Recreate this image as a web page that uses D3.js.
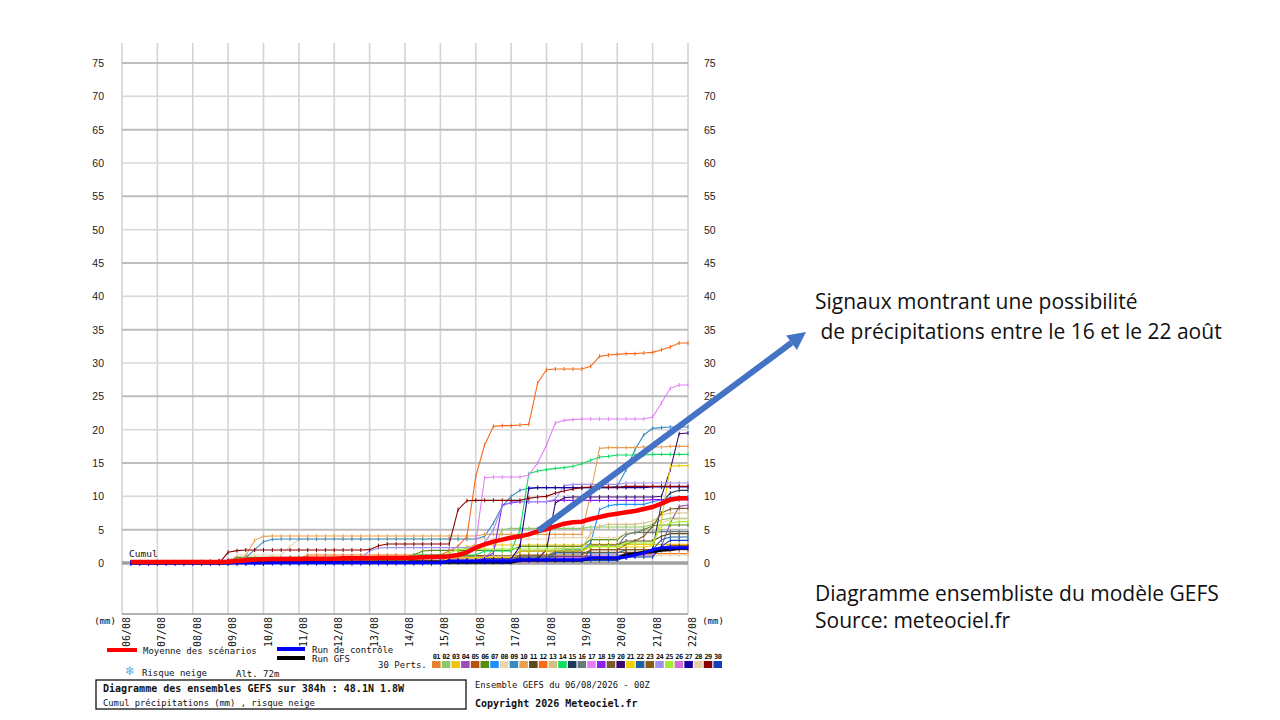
<!DOCTYPE html>
<html><head><meta charset="utf-8">
<script src="https://cdn.jsdelivr.net/npm/d3@7"></script>
<style>body{margin:0;background:#fff}svg{display:block}</style>
</head><body><svg id="c" width="1280" height="720"></svg>
<script>
// ---------- data ----------
const dayLabels = ["06/08","07/08","08/08","09/08","10/08","11/08","12/08","13/08","14/08","15/08","16/08","17/08","18/08","19/08","20/08","21/08","22/08"];
const yTicks = [0,5,10,15,20,25,30,35,40,45,50,55,60,65,70,75];
const memberIds = ["01","02","03","04","05","06","07","08","09","10","11","12","13","14","15","16","17","18","19","20","21","22","23","24","25","26","27","28","29","30"];
const memberColors = ["#e8812f","#8dc86a","#f2c40c","#9b4fb4","#b5520f","#5a8a10","#1e90ff","#ead6b0","#3a8ac0","#e8a050","#5a4a1a","#f86a1a","#d4c080","#10dc60","#1e3a5a","#6a7880","#e080f8","#8a20f0","#7a5a30","#3a0a70","#f0d000","#1e60a0","#8b5a1a","#a090f0","#a0f030","#d070d0","#1a00a0","#e8d0a8","#880000","#1040c0"];
// cumulative precipitation (mm), one value every 6 h from +6h to +384h
const m01 = [0.2,0.2,0.2,0.2,0.2,0.2,0.2,0.2, 0.2,0.2,0.2,0.2,0.2,0.2,0.2,0.2, 0.2,0.2,0.2,0.2,0.2,0.2,0.2,0.2, 0.2,0.2,0.2,0.2,0.2,0.2,0.2,0.2, 0.2,0.2,0.2,0.2,0.6,0.6,0.6,0.6, 0.9,0.9,0.9,0.9,0.9,0.9,0.9,0.9, 0.9,0.9,0.9,0.9,0.9,0.9,0.9,0.9, 1.4,1.4,1.4,1.4,1.4,1.4,1.4,1.4];
const m02 = [0,0,0,0,0.1,0.1,0.1,0.1, 0.2,0.2,0.2,0.2,0.2,0.2,0.2,0.2, 0.3,0.3,0.3,0.3,0.3,0.3,0.3,0.3, 0.3,0.3,0.3,0.3,0.3,0.3,0.3,0.3, 0.3,0.3,0.3,0.3,0.8,0.8,0.8,0.8, 0.8,2.0,5.0,5.2,5.2,5.2,5.2,5.2, 5.2,5.2,5.2,5.2,5.4,5.4,5.4,5.4, 5.4,5.4,5.4,5.8,6.5,6.7,6.7,6.7];
const m03 = [0,0,0,0,0,0,0.1,0.1, 0.1,0.1,0.2,0.2,0.2,0.2,0.2,0.2, 0.2,0.2,0.2,0.2,0.2,0.2,0.2,0.2, 0.2,0.2,0.2,0.2,0.2,0.2,0.2,0.2, 0.2,0.2,0.2,0.2,0.6,1.5,2.4,2.7, 2.7,2.7,2.7,2.7,2.7,2.7,2.7,2.7, 2.7,2.7,2.7,2.7,2.8,2.8,2.8,2.8, 2.8,2.8,2.8,2.8,2.8,2.8,2.8,2.8];
const m04 = [0,0,0,0,0,0,0,0, 0,0,0,0.5,0.8,0.8,0.8,0.8, 0.8,0.8,0.8,0.8,0.8,0.8,0.8,0.8, 0.8,0.8,0.8,0.8,0.8,0.8,0.8,0.8, 0.8,0.8,0.8,0.8,0.8,0.8,0.8,0.8, 0.8,0.8,0.8,0.8,1.0,1.0,1.0,1.0, 1.0,1.0,1.0,1.0,1.2,1.2,1.2,1.2, 1.2,1.2,1.2,1.2,2.5,6.0,8.5,8.7];
const m05 = [0,0,0,0,0,0.1,0.1,0.1, 0.1,0.2,0.3,0.3,0.3,0.3,0.3,0.3, 0.3,0.3,0.3,0.3,0.3,0.3,0.3,0.3, 0.3,0.3,0.3,0.3,0.3,0.3,0.3,0.3, 0.3,0.3,0.3,0.3,1.1,1.1,1.1,1.1, 1.1,1.1,1.1,1.1,1.1,1.1,1.1,1.1, 1.6,1.6,1.6,1.6,1.6,1.6,1.6,1.6, 1.6,1.6,1.6,1.6,1.9,2.0,2.0,2.0];
const m06 = [0,0,0,0,0,0,0.1,0.1, 0.1,0.1,0.1,0.1,0.85,0.85,0.85,0.85, 0.85,0.85,0.85,0.85,0.85,0.85,0.85,0.85, 0.85,0.85,0.85,0.85,0.85,0.85,0.85,0.85, 1.2,1.8,1.9,1.9,1.9,1.9,1.9,1.9, 1.9,1.9,1.9,1.9,2.5,2.5,2.5,2.5, 2.5,2.5,2.5,2.5,3.5,3.5,3.5,3.5, 4.5,4.5,5.0,5.6,5.7,5.7,5.7,5.7];
const m07 = [0,0,0,0,0,0,0,0, 0,0,0,0.05,0.3,0.3,0.3,0.3, 0.3,0.3,0.3,0.3,0.3,0.3,0.3,0.3, 0.3,0.3,0.3,0.3,0.3,0.3,0.3,0.3, 0.3,0.3,0.3,0.3,0.3,0.3,0.3,0.3, 1.0,1.0,1.0,1.0,1.0,1.0,1.0,1.0, 1.5,2.0,2.0,2.0,3.0,8.0,8.6,8.8, 8.8,8.8,8.8,9.2,9.5,9.8,9.9,9.9];
const m08 = [0,0,0,0,0,0.1,0.1,0.1, 0.1,0.1,0.1,0.1,1.2,1.2,1.2,1.2, 1.2,1.2,2.5,3.55,3.6,3.6,3.6,3.6, 3.6,3.6,3.6,3.6,3.6,3.6,3.6,3.6, 3.6,3.6,3.6,3.6,3.6,3.6,3.6,3.6, 3.6,3.6,3.6,3.6,3.6,3.6,3.6,3.6, 3.8,3.8,3.8,3.8,3.8,3.8,3.8,3.8, 4.5,4.5,4.5,4.5,6.0,6.5,6.6,6.6];
const m09 = [0,0,0,0,0,0.1,0.1,0.1, 0.1,0.1,0.1,0.1,0.3,0.8,2.0,3.2, 3.55,3.6,3.6,3.6,3.6,3.6,3.6,3.6, 3.6,3.6,3.6,3.6,3.6,3.6,3.6,3.6, 3.6,3.6,3.6,3.6,3.6,3.6,3.6,3.6, 4.0,6.0,8.5,10.0,10.9,11.2,11.3,11.3, 11.3,11.3,11.3,11.3,11.3,11.3,11.3,11.5, 14.0,17.0,19.2,20.2,20.3,20.4,20.4,20.4];
const m10 = [0,0,0,0,0.1,0.1,0.2,0.2, 0.2,0.2,0.2,0.2,0.2,1.1,3.4,4.0, 4.05,4.05,4.05,4.05,4.05,4.05,4.05,4.05, 4.05,4.05,4.05,4.05,4.05,4.05,4.05,4.05, 4.05,4.05,4.05,4.05,4.05,4.05,4.05,4.05, 4.3,4.3,4.3,4.3,4.3,4.3,4.3,4.3, 4.3,4.3,4.3,4.3,10.5,17.2,17.3,17.3, 17.3,17.3,17.4,17.4,17.4,17.5,17.5,17.5];
const m11 = [0,0,0,0,0,0,0.1,0.1, 0.1,0.2,0.2,0.2,0.2,0.2,0.2,0.2, 0.2,0.2,0.2,0.2,0.2,0.2,0.2,0.2, 0.2,0.2,0.2,0.2,0.2,0.2,0.2,0.2, 0.2,0.2,0.2,0.2,0.9,0.9,0.9,0.9, 0.9,0.9,0.9,0.9,1.8,1.8,1.8,1.8, 1.8,1.8,1.8,1.8,2.7,2.7,2.7,2.7, 3.3,3.3,3.3,3.3,4.0,4.4,4.4,4.4];
const m12 = [0,0,0,0,0,0.1,0.1,0.1, 0.1,0.1,0.1,0.1,0.6,0.6,0.6,0.6, 0.6,0.6,0.6,0.6,1.2,1.2,1.2,1.2, 1.2,1.2,1.2,1.2,1.2,1.2,1.2,1.2, 1.2,1.2,1.2,1.2,1.8,2.5,4.0,13.0, 17.7,20.5,20.6,20.6,20.7,20.8,27.0,29.0, 29.1,29.1,29.1,29.1,29.5,31.0,31.2,31.3, 31.4,31.4,31.5,31.6,32.0,32.4,33.0,33.0];
const m13 = [0,0,0,0,0.1,0.1,0.1,0.1, 0.2,0.2,0.3,0.3,0.3,0.3,0.3,0.3, 0.3,0.3,0.3,0.3,0.3,0.3,0.3,0.3, 0.3,0.3,0.3,0.3,0.3,0.3,0.3,0.3, 0.3,0.3,0.3,0.3,0.3,0.3,0.3,0.3, 1.0,1.0,1.0,1.0,1.0,1.0,1.0,1.0, 2.2,2.2,2.2,2.2,4.5,5.5,5.8,5.8, 5.8,5.8,6.0,6.3,7.2,7.5,7.5,7.5];
const m14 = [0,0,0,0,0,0,0.1,0.1, 0.1,0.1,0.1,0.1,0.1,0.1,0.1,0.1, 0.5,0.5,0.5,0.5,0.5,0.5,0.5,0.5, 0.5,0.5,0.5,0.5,0.5,0.5,0.5,0.5, 1.2,1.2,1.2,1.2,1.2,1.2,1.2,1.2, 1.8,1.8,1.8,1.8,5.0,13.4,13.8,14.0, 14.2,14.3,14.5,14.9,15.4,15.9,16.0,16.2, 16.2,16.2,16.2,16.3,16.3,16.3,16.3,16.3];
const m15 = [0,0,0,0,0.1,0.1,0.1,0.1, 0.1,0.1,0.2,0.3,0.3,0.3,0.3,0.3, 0.3,0.3,0.3,0.3,0.3,0.3,0.3,0.3, 0.3,0.3,0.3,0.3,0.3,0.3,0.3,0.3, 0.3,0.3,0.3,0.3,0.3,0.3,0.3,0.3, 0.3,0.3,0.3,0.3,0.9,0.9,0.9,0.9, 0.9,0.9,0.9,0.9,0.9,0.9,0.9,0.9, 1.5,1.5,1.5,2.0,9.0,10.5,10.9,10.9];
const m16 = [0,0,0,0,0,0.1,0.1,0.1, 0.1,0.1,0.2,0.2,0.2,0.2,0.2,0.2, 0.2,0.2,0.2,0.2,0.2,0.2,0.2,0.2, 0.2,0.2,0.2,0.2,0.2,0.2,0.2,0.2, 0.2,0.2,0.2,0.2,0.2,0.2,0.2,0.2, 0.8,0.8,0.8,0.8,0.8,0.8,0.8,0.8, 1.8,1.8,1.8,1.8,2.5,2.5,2.5,2.5, 4.2,4.6,4.6,4.6,4.7,4.7,4.7,4.7];
const m17 = [0,0,0,0,0.1,0.1,0.1,0.1, 0.2,0.2,0.4,0.4,0.4,0.4,0.4,0.4, 0.4,0.4,0.4,0.4,0.4,0.4,0.4,0.4, 0.4,0.4,0.4,0.4,0.4,0.4,0.4,0.4, 0.4,0.4,0.4,0.4,0.6,0.9,1.5,3.0, 12.8,12.9,12.9,12.9,12.9,13.2,15.0,17.7, 21.0,21.4,21.5,21.6,21.6,21.6,21.6,21.6, 21.6,21.6,21.6,21.9,24.0,26.2,26.7,26.7];
const m18 = [0,0,0,0,0,0.1,0.1,0.1, 0.1,0.2,0.3,0.3,0.3,0.3,0.3,0.3, 0.3,0.3,0.3,0.3,0.3,0.3,0.3,0.3, 0.3,0.3,0.3,0.3,0.3,0.3,0.3,0.3, 0.3,0.3,0.3,0.3,0.3,0.3,0.3,0.3, 0.8,1.5,8.7,9.0,9.2,9.2,9.2,9.2, 9.4,9.4,9.4,9.4,9.4,9.4,9.4,9.4, 9.4,9.4,9.4,9.5,9.5,9.5,9.5,9.5];
const m19 = [0,0,0,0,0,0,0.1,0.1, 0.1,0.1,0.2,0.2,0.2,0.2,0.2,0.2, 0.2,0.2,0.2,0.2,0.2,0.2,0.2,0.2, 0.2,0.2,0.2,0.2,0.4,0.4,0.4,0.4, 0.4,0.4,0.4,0.4,0.4,0.4,0.4,0.4, 0.4,0.4,0.4,0.4,0.4,0.4,0.4,0.4, 0.4,0.4,0.4,0.4,2.0,2.0,2.0,2.0, 2.8,3.3,4.0,5.5,7.5,8.1,8.2,8.2];
const m20 = [0,0,0,0,0,0.1,0.1,0.1, 0.1,0.1,0.3,0.3,0.3,0.3,0.3,0.3, 0.3,0.3,0.3,0.3,0.3,0.3,0.3,0.3, 0.3,0.3,0.3,0.3,0.3,0.3,0.3,0.3, 0.3,0.3,0.3,0.3,0.3,0.3,0.3,0.3, 0.6,0.6,0.6,0.6,0.6,0.6,0.6,2.0, 9.0,9.8,9.9,9.9,9.9,9.9,9.9,9.9, 9.9,9.9,9.9,9.9,10.0,14.0,19.4,19.5];
const m21 = [0,0,0,0,0,0,0.1,0.1, 0.1,0.1,0.2,0.2,0.2,0.2,0.2,0.2, 0.2,0.2,0.2,0.2,0.2,0.2,0.2,0.2, 0.2,0.2,0.2,0.2,0.2,0.2,0.2,0.2, 0.2,0.2,0.2,0.2,0.8,0.8,0.8,0.8, 0.8,0.8,0.8,0.8,1.8,1.8,1.8,1.8, 1.8,1.8,1.8,1.8,2.4,2.4,2.4,2.4, 2.4,2.4,2.4,2.6,6.5,14.5,14.6,14.6];
const m22 = [0,0,0,0,0,0,0,0, 0,0,0,0,0.1,0.1,0.1,0.1, 0.1,0.1,0.1,0.1,0.1,0.1,0.1,0.1, 0.1,0.1,0.1,0.1,0.1,0.1,0.1,0.1, 0.1,0.1,0.1,0.1,0.1,0.1,0.1,0.1, 0.5,0.5,0.5,0.5,0.5,0.5,0.5,0.5, 1.5,1.5,1.5,1.5,1.5,1.5,1.5,1.5, 2.0,2.0,2.0,2.0,3.5,3.9,3.9,3.9];
const m23 = [0,0,0,0,0,0,0.1,0.1, 0.1,0.2,0.3,0.3,0.3,0.3,0.3,0.3, 0.3,0.3,0.3,0.3,0.3,0.3,0.3,0.3, 0.3,0.3,0.3,0.3,0.3,0.3,0.3,0.3, 0.3,0.3,0.3,0.3,0.3,0.3,0.3,0.3, 0.3,0.3,0.3,0.3,1.2,1.2,1.2,1.2, 1.2,1.2,1.2,1.2,2.0,2.0,2.0,2.0, 2.0,2.0,2.0,2.0,2.4,2.6,2.6,2.6];
const m24 = [0,0,0,0,0,0,0,0, 0,0,0,0.1,0.1,0.1,0.1,0.1, 0.1,0.1,0.1,0.1,0.1,0.1,0.1,0.1, 0.1,0.1,0.8,1.8,2.25,2.3,2.3,2.3, 2.3,2.3,2.3,2.3,2.3,2.3,2.3,2.3, 3.0,5.0,8.5,9.2,9.2,9.2,9.2,9.2, 9.6,11.6,11.8,11.8,11.8,11.8,11.8,11.8, 12.0,12.0,12.0,12.0,12.0,12.0,12.0,12.0];
const m25 = [0,0,0,0,0,0.1,0.1,0.1, 0.1,0.1,0.2,0.2,0.3,0.3,0.3,0.3, 0.3,0.3,0.3,0.3,0.3,0.3,0.3,0.3, 0.3,0.3,0.3,0.3,0.3,0.3,0.3,0.3, 0.8,0.8,0.8,0.8,1.5,2.0,2.1,2.1, 2.1,2.1,2.1,2.1,2.1,2.1,2.1,2.1, 2.1,2.1,2.1,2.1,2.5,2.5,2.5,2.5, 3.0,3.0,3.0,3.0,5.5,6.0,6.2,6.2];
const m26 = [0,0,0,0,0,0,0.1,0.1, 0.1,0.1,0.2,0.2,0.2,0.2,0.2,0.2, 0.2,0.2,0.2,0.2,0.2,0.2,0.2,0.2, 0.2,0.2,0.2,0.2,0.2,0.2,0.2,0.2, 0.2,0.2,0.2,0.2,0.2,0.2,0.2,0.2, 0.2,0.2,0.2,0.2,0.2,0.2,0.2,0.2, 0.8,0.8,0.8,0.8,0.8,0.8,0.8,0.8, 1.2,1.2,1.2,1.2,2.4,2.4,2.4,2.4];
const m27 = [0,0,0,0,0,0.1,0.1,0.1, 0.1,0.1,0.2,0.2,0.2,0.2,0.2,0.2, 0.2,0.2,0.2,0.2,0.2,0.2,0.2,0.2, 0.2,0.2,0.2,0.2,0.2,0.2,0.2,0.2, 0.2,0.2,0.2,0.2,0.2,0.2,0.2,0.2, 0.6,0.6,0.6,0.6,2.5,11.2,11.3,11.3, 11.3,11.3,11.3,11.3,11.3,11.3,11.3,11.3, 11.3,11.3,11.3,11.4,11.4,11.4,11.4,11.4];
const m28 = [0,0,0,0,0,0,0,0, 0,0,0.1,0.1,0.1,0.1,0.1,0.1, 0.1,0.1,0.1,0.1,0.1,0.1,0.1,0.1, 0.1,0.1,0.1,0.1,0.1,0.1,0.1,0.1, 0.1,0.1,0.1,0.1,0.1,0.1,0.1,0.1, 0.4,0.4,0.4,0.4,0.4,0.4,0.4,0.4, 0.4,0.4,0.4,0.4,0.9,0.9,0.9,0.9, 0.9,0.9,1.0,1.0,1.2,1.2,1.2,1.2];
const m29 = [0,0,0,0,0,0,0,0, 0,0,0,1.6,1.85,1.95,1.95,1.95, 1.95,1.95,1.95,1.95,1.95,1.95,1.95,1.95, 1.95,1.95,1.95,2.0,2.6,2.85,2.85,2.85, 2.85,2.85,2.85,2.85,2.85,8.0,9.35,9.4, 9.4,9.4,9.4,9.4,9.4,9.7,9.9,10.0, 10.5,10.8,11.1,11.3,11.4,11.4,11.4,11.4, 11.5,11.5,11.5,11.5,11.5,11.5,11.5,11.5];
const m30 = [0,0,0,0,0,0,0,0, 0,0,0,0,0,0,0,0, 0,0,0,0,0.05,0.05,0.05,0.05, 0.05,0.05,0.05,0.05,0.05,0.05,0.05,0.05, 0.05,0.05,0.05,0.05,0.05,0.05,0.05,0.05, 0.05,0.05,0.05,0.05,0.4,0.4,0.4,0.4, 0.4,0.4,0.4,0.4,0.4,0.4,0.4,0.4, 0.9,0.9,0.9,0.9,2.5,3.4,3.4,3.4];
const meanSeries = [0.15,0.15,0.15,0.15,0.15,0.15,0.15,0.15, 0.15,0.15,0.15,0.2,0.3,0.4,0.5,0.55, 0.6,0.6,0.6,0.6,0.65,0.65,0.65,0.65, 0.7,0.7,0.7,0.7,0.75,0.75,0.75,0.75, 0.8,0.85,0.9,0.95,1.0,1.2,1.6,2.3, 2.8,3.2,3.5,3.8,4.0,4.3,4.75,5.1, 5.5,5.9,6.1,6.2,6.6,6.9,7.2,7.4, 7.6,7.8,8.1,8.4,8.9,9.5,9.7,9.7];
const controlSeries = [0,0,0,0,0,0,0,0, 0,0,0,0,0,0,0,0, 0.05,0.05,0.05,0.05,0.05,0.05,0.05,0.05, 0.05,0.05,0.05,0.05,0.05,0.05,0.05,0.05, 0.05,0.05,0.05,0.05,0.3,0.3,0.3,0.3, 0.3,0.3,0.3,0.3,0.5,0.5,0.5,0.5, 0.5,0.5,0.5,0.5,0.8,0.8,0.8,0.8, 0.9,1.2,1.5,2.0,2.3,2.3,2.3,2.3];
const gfsSeries = [0,0,0,0,0,0,0,0, 0,0,0,0,0.1,0.1,0.1,0.1, 0.1,0.1,0.1,0.1,0.1,0.1,0.1,0.1, 0.1,0.1,0.1,0.1,0.1,0.1,0.1,0.1, 0.1,0.1,0.1,0.1,0.1,0.1,0.1,0.1, 0.1,0.1,0.1,0.1,0.4,0.4,0.4,0.4, 0.4,0.4,0.4,0.4,0.7,0.7,0.7,0.7, 1.2,1.4,1.6,1.7,1.9,2.0,2.2,2.2];
const members = [m01,m02,m03,m04,m05,m06,m07,m08,m09,m10,m11,m12,m13,m14,m15,m16,m17,m18,m19,m20,m21,m22,m23,m24,m25,m26,m27,m28,m29,m30];

// ---------- drawing ----------
const svg = d3.select("#c");
const x = d3.scaleLinear().domain([0, 64]).range([122, 688]);
const y = d3.scaleLinear().domain([0, 75]).range([563, 63]);
const MONO = "'DejaVu Sans Mono', 'Liberation Mono', monospace";
const SANS = "'Liberation Sans', Arial, sans-serif";
const dayTicks = dayLabels.map((d, i) => i * 4);

// grid
const grid = svg.append("g");
grid.selectAll("line.v").data(dayTicks).join("line")
  .attr("x1", d => x(d)).attr("x2", d => x(d))
  .attr("y1", 43).attr("y2", 614)
  .attr("stroke", "#d4d4d4").attr("stroke-width", 1.6);
grid.selectAll("line.h").data(yTicks.filter(v => v > 0)).join("line")
  .attr("x1", x(0)).attr("x2", x(64))
  .attr("y1", d => y(d)).attr("y2", d => y(d))
  .attr("stroke", d => (d / 5) % 2 === 1 ? "#bdbdbd" : "#d8d8d8")
  .attr("stroke-width", d => (d / 5) % 2 === 1 ? 2 : 1.5);
grid.append("line").attr("x1", x(0)).attr("x2", x(64)).attr("y1", 614).attr("y2", 614)
  .attr("stroke", "#9a9a9a").attr("stroke-width", 1.5);
grid.append("line").attr("x1", x(0)).attr("x2", x(64)).attr("y1", y(0)).attr("y2", y(0))
  .attr("stroke", "#a0a0a0").attr("stroke-width", 3.5);

// y axes
function styleAxis(g) {
  g.select(".domain").remove();
  g.selectAll("text").attr("font-family", SANS).attr("font-size", 10.5).attr("fill", "#222");
}
svg.append("g").attr("transform", "translate(104,0)")
  .call(d3.axisLeft(y).tickValues(yTicks).tickSize(0).tickPadding(0)).call(styleAxis);
svg.append("g").attr("transform", "translate(704,0)")
  .call(d3.axisRight(y).tickValues(yTicks).tickSize(0).tickPadding(0)).call(styleAxis);

// x axis (rotated date labels)
const xa = svg.append("g").attr("transform", "translate(0,617)")
  .call(d3.axisBottom(x).tickValues(dayTicks).tickSize(0).tickFormat((d, i) => dayLabels[i]));
xa.select(".domain").remove();
xa.selectAll("text")
  .attr("font-family", MONO).attr("font-size", 10).attr("fill", "#111")
  .attr("text-anchor", "end").attr("y", 0).attr("dy", "0.35em")
  .attr("transform", "translate(4,0) rotate(-90)");

svg.append("text").attr("x", 105).attr("y", 624).attr("text-anchor", "middle")
  .attr("font-family", MONO).attr("font-size", 9).text("(mm)");
svg.append("text").attr("x", 713).attr("y", 624).attr("text-anchor", "middle")
  .attr("font-family", MONO).attr("font-size", 9).text("(mm)");
svg.append("text").attr("x", 129).attr("y", 557)
  .attr("font-family", MONO).attr("font-size", 9.5).attr("fill", "#111").text("Cumul");

// series
const line = d3.line().x((d, i) => x(i + 1)).y(d => y(d));
const plot = svg.append("g");
members.forEach((s, k) => {
  const c = memberColors[k];
  plot.append("path").datum(s).attr("d", line).attr("fill", "none")
    .attr("stroke", c).attr("stroke-width", 1.1);
  plot.append("g").selectAll("line").data(s).join("line")
    .attr("x1", (d, i) => x(i + 1)).attr("x2", (d, i) => x(i + 1))
    .attr("y1", d => y(d) - 2).attr("y2", d => y(d) + 2)
    .attr("stroke", c).attr("stroke-width", 1);
});
plot.append("path").datum(gfsSeries).attr("d", line).attr("fill", "none")
  .attr("stroke", "#000").attr("stroke-width", 3);
plot.append("path").datum(controlSeries).attr("d", line).attr("fill", "none")
  .attr("stroke", "#0000ff").attr("stroke-width", 3);
plot.append("g").selectAll("line").data(controlSeries).join("line")
  .attr("x1", (d, i) => x(i + 1)).attr("x2", (d, i) => x(i + 1))
  .attr("y1", d => y(d) - 3).attr("y2", d => y(d) + 3)
  .attr("stroke", "#0000ff").attr("stroke-width", 1);
plot.append("path").datum(meanSeries).attr("d", line).attr("fill", "none")
  .attr("stroke", "#ff0000").attr("stroke-width", 4.5).attr("stroke-linejoin", "round");

// legend
const lg = svg.append("g").attr("font-family", MONO).attr("fill", "#111");
lg.append("line").attr("x1", 107).attr("x2", 137).attr("y1", 650).attr("y2", 650).attr("stroke", "#ff0000").attr("stroke-width", 4);
lg.append("text").attr("x", 143).attr("y", 654).attr("font-size", 9).text("Moyenne des scénarios");
lg.append("line").attr("x1", 277).attr("x2", 305).attr("y1", 649).attr("y2", 649).attr("stroke", "#0000ff").attr("stroke-width", 4);
lg.append("text").attr("x", 312).attr("y", 653).attr("font-size", 9).text("Run de contrôle");
lg.append("line").attr("x1", 277).attr("x2", 305).attr("y1", 658).attr("y2", 658).attr("stroke", "#000").attr("stroke-width", 4);
lg.append("text").attr("x", 312).attr("y", 662).attr("font-size", 9).text("Run GFS");
lg.append("text").attr("x", 378).attr("y", 668).attr("font-size", 9).text("30 Perts.");
lg.append("text").attr("x", 130).attr("y", 675).attr("text-anchor", "middle").attr("font-family", "'DejaVu Sans'").attr("font-size", 12).attr("fill", "#5aaee8").text("\u2744");
lg.append("text").attr("x", 142).attr("y", 676).attr("font-size", 9).text("Risque neige");
lg.append("text").attr("x", 236).attr("y", 677).attr("font-size", 9).text("Alt. 72m");

const sq = d3.scaleBand().domain(memberIds).range([432, 722]).paddingInner(0.12);
lg.selectAll("rect.m").data(memberIds).join("rect")
  .attr("x", d => sq(d)).attr("y", 661).attr("width", sq.bandwidth()).attr("height", 7)
  .attr("fill", (d, i) => memberColors[i]);
lg.selectAll("text.m").data(memberIds).join("text")
  .attr("x", d => sq(d) + sq.bandwidth() / 2).attr("y", 659).attr("text-anchor", "middle")
  .attr("font-size", 7).attr("font-weight", "bold").attr("letter-spacing", -0.6).text(d => d);

// info box
svg.append("rect").attr("x", 96).attr("y", 680).attr("width", 370).attr("height", 29)
  .attr("fill", "none").attr("stroke", "#111").attr("stroke-width", 1.3);
svg.append("text").attr("x", 103).attr("y", 692).attr("font-family", MONO).attr("font-size", 10)
  .attr("font-weight", "bold").attr("fill", "#111").text("Diagramme des ensembles GEFS sur 384h : 48.1N 1.8W");
svg.append("text").attr("x", 103).attr("y", 706).attr("font-family", MONO).attr("font-size", 8.8)
  .attr("fill", "#111").text("Cumul précipitations (mm) , risque neige");
svg.append("text").attr("x", 475).attr("y", 688).attr("font-family", MONO).attr("font-size", 8.8)
  .attr("fill", "#111").text("Ensemble GEFS du 06/08/2026 - 00Z");
svg.append("text").attr("x", 475).attr("y", 707).attr("font-family", MONO).attr("font-size", 10)
  .attr("font-weight", "bold").attr("fill", "#111").text("Copyright 2026 Meteociel.fr");

// annotations
const ann = svg.append("g").attr("font-family", "'Open Sans', 'Noto Sans', sans-serif").attr("font-size", 21).attr("fill", "#111");
ann.append("text").attr("x", 815).attr("y", 309).text("Signaux montrant une possibilité");
ann.append("text").attr("x", 815).attr("y", 339).attr("xml:space", "preserve").style("white-space", "pre").text(" de précipitations entre le 16 et le 22 août");
ann.append("text").attr("x", 815).attr("y", 601).text("Diagramme ensembliste du modèle GEFS");
ann.append("text").attr("x", 815).attr("y", 628).text("Source: meteociel.fr");

// arrow
const a0 = [538, 531], a1 = [806, 332];
const dx = a1[0] - a0[0], dy = a1[1] - a0[1], L = Math.hypot(dx, dy);
const ux = dx / L, uy = dy / L, hl = 18, hw = 9;
const bx = a1[0] - ux * hl, by = a1[1] - uy * hl;
svg.append("line").attr("x1", a0[0]).attr("y1", a0[1]).attr("x2", bx).attr("y2", by)
  .attr("stroke", "#4472c4").attr("stroke-width", 6);
svg.append("polygon").attr("fill", "#4472c4")
  .attr("points", [[a1[0], a1[1]], [bx - uy * hw, by + ux * hw], [bx + uy * hw, by - ux * hw]].map(p => p.join(",")).join(" "));
</script>
</body></html>
